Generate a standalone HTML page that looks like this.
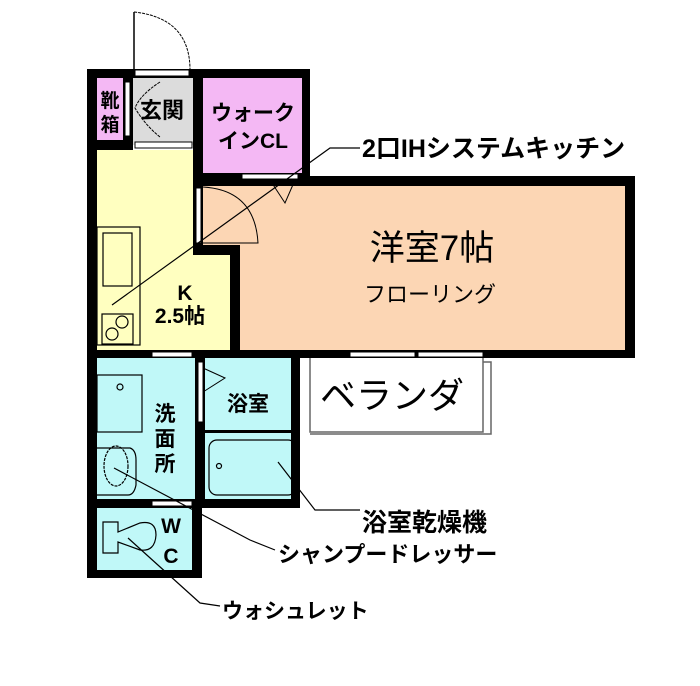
<!DOCTYPE html>
<html><head><meta charset="utf-8"><style>
body{margin:0;background:#fff;}
svg text{font-family:"Liberation Sans","Noto Sans CJK JP",sans-serif;}
</style></head><body>
<svg width="700" height="681" viewBox="0 0 700 681" xmlns="http://www.w3.org/2000/svg">
<rect width="700" height="681" fill="#fff"/>
<path d="M134 12 L134 70" stroke="#000" stroke-width="1.5"/>
<path d="M134 12 Q190 18 190 70" stroke="#000" stroke-width="1" fill="none" stroke-dasharray="3,1"/>
<rect x="97" y="78" width="26" height="62" fill="#f4b8f4"/>
<rect x="133" y="78" width="60" height="67" fill="#dcdcdc"/>
<rect x="203" y="78" width="99" height="95" fill="#f4b8f4"/>
<rect x="97" y="150" width="96" height="200" fill="#ffffc0"/>
<rect x="193" y="255" width="37" height="95" fill="#ffffc0"/>
<rect x="240" y="186" width="385" height="164" fill="#fcd6b4"/>
<rect x="203" y="186" width="37" height="59" fill="#fcd6b4"/>
<rect x="97" y="358" width="98" height="141" fill="#c0f8f8"/>
<rect x="205" y="358" width="86" height="141" fill="#c0f8f8"/>
<rect x="97" y="508" width="95" height="62" fill="#c0f8f8"/>
<g fill="#000">
<rect x="87" y="69" width="223" height="9"/>
<rect x="87" y="69" width="10" height="509"/>
<rect x="123" y="78" width="10" height="72"/>
<rect x="97" y="140" width="36" height="10"/>
<rect x="193" y="78" width="10" height="177"/>
<rect x="302" y="69" width="8" height="117"/>
<rect x="203" y="173" width="107" height="4"/>
<rect x="197" y="176" width="438" height="10"/>
<rect x="625" y="176" width="10" height="182"/>
<rect x="193" y="245" width="47" height="10"/>
<rect x="230" y="245" width="10" height="110"/>
<rect x="87" y="350" width="548" height="8"/>
<rect x="195" y="358" width="10" height="150"/>
<rect x="291" y="358" width="9" height="150"/>
<rect x="87" y="499" width="213" height="9"/>
<rect x="192" y="508" width="10" height="70"/>
<rect x="87" y="570" width="115" height="8"/>
<rect x="205" y="430" width="86" height="3"/>
</g>
<g fill="#fff" stroke="#000" stroke-width="1">
<rect x="135" y="70" width="54" height="6"/>
<rect x="135" y="142" width="57" height="6"/>
<rect x="125" y="82" width="5" height="54"/>
<rect x="242" y="174" width="56" height="5"/>
<rect x="196" y="188" width="5" height="55"/>
<rect x="152" y="352" width="40" height="5"/>
<rect x="198" y="362" width="5" height="60"/>
<rect x="350" y="352" width="65" height="5"/>
<rect x="418" y="352" width="65" height="5"/>
<rect x="152" y="501" width="40" height="5"/>
</g>
<g stroke="#000" stroke-width="1" fill="none">
<path d="M203 187 Q255 190 258 243 L203 243"/>
<path d="M270 180 L285 203 L295 180"/>
<path d="M203 368 L225 378 L203 392"/>
<path d="M160 82 Q140 95 135 108 Q145 125 160 137" stroke-dasharray="3,1"/>
</g>
<g stroke="#666" stroke-width="1.5" fill="#fff">
<path d="M310 358 L310 432 L483 432 L483 358"/>
<path d="M483 362 L491 362 L491 434 L310 434" fill="none"/>
</g>
<g stroke="#000" stroke-width="1.2" fill="none">
<rect x="97" y="227" width="43" height="118"/>
<rect x="103" y="233" width="29" height="53"/>
<rect x="102" y="314" width="31" height="30"/>
<circle cx="122" cy="322" r="6"/>
<circle cx="112" cy="334" r="6"/>
<rect x="97" y="375" width="45" height="57"/>
<circle cx="120" cy="387" r="3"/>
<path d="M97 448 L130 448 Q136 450 136 460 L136 485 Q134 495 128 495 L97 495"/>
<ellipse cx="116" cy="466" rx="12" ry="20" stroke-dasharray="3,1"/>
<rect x="209" y="440" width="87" height="55" rx="8"/>
<circle cx="219" cy="466" r="2.5"/>
<path d="M103 522 L118 522 L118 532 L140 523 Q156 520 156 535 Q155 552 140 550 L118 542 L118 553 L103 553 Z"/>
<path d="M112 305 L330 148 L360 148"/>
<path d="M278 462 L315 510 L360 510"/>
<path d="M114 468 L250 540 L275 550"/>
<path d="M128 538 L200 603 L220 606"/>
</g>
<g fill="#000" font-weight="bold">
<text x="110" y="107" font-size="19" text-anchor="middle">靴</text>
<text x="110" y="131" font-size="19" text-anchor="middle">箱</text>
<text x="162" y="118" font-size="22" text-anchor="middle">玄関</text>
<text x="253" y="120" font-size="21" text-anchor="middle">ウォーク</text>
<text x="253" y="148" font-size="21" text-anchor="middle">インCL</text>
<text x="185" y="300" font-size="21" text-anchor="middle">K</text>
<text x="180" y="323" font-size="21" text-anchor="middle">2.5帖</text>
<text x="165" y="421" font-size="21" text-anchor="middle">洗</text>
<text x="165" y="446" font-size="21" text-anchor="middle">面</text>
<text x="165" y="471" font-size="21" text-anchor="middle">所</text>
<text x="248" y="411" font-size="21" text-anchor="middle">浴室</text>
<text x="171" y="533" font-size="21" text-anchor="middle">W</text>
<text x="171" y="563" font-size="21" text-anchor="middle">C</text>
<text x="362" y="157" font-size="25">2口IHシステムキッチン</text>
<text x="362" y="531" font-size="25">浴室乾燥機</text>
<text x="278" y="562" font-size="22">シャンプードレッサー</text>
<text x="222" y="618" font-size="21">ウォシュレット</text>
</g>
<g fill="#000">
<text x="432" y="260" font-size="35" text-anchor="middle">洋室7帖</text>
<text x="430" y="302" font-size="22" text-anchor="middle">フローリング</text>
<text x="392" y="408" font-size="36" text-anchor="middle">ベランダ</text>
</g>
</svg>
</body></html>
